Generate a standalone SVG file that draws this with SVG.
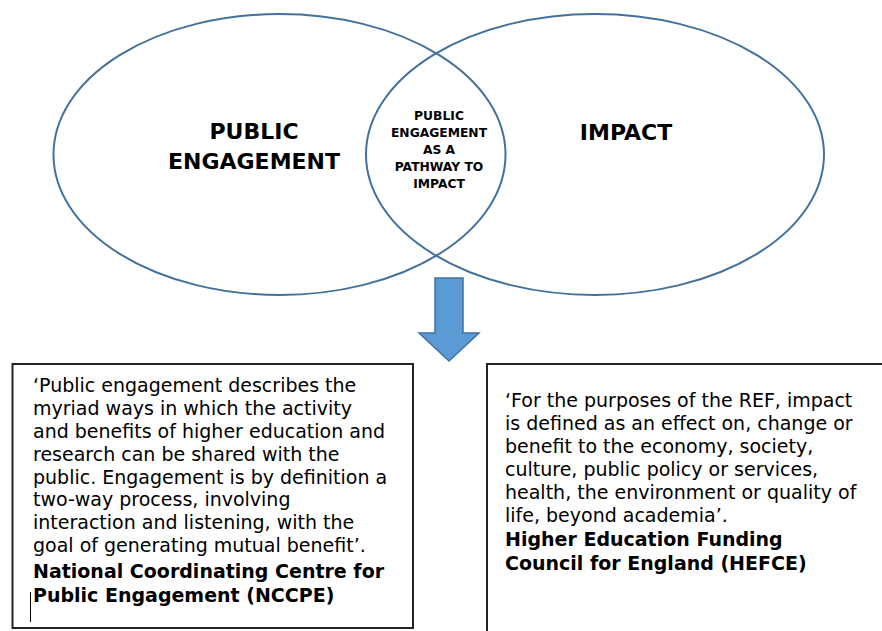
<svg xmlns="http://www.w3.org/2000/svg" width="882" height="631" viewBox="0 0 882 631">
<style>
.ell{fill:none;stroke:#41719C;stroke-width:2}
.box{fill:#fff;stroke:#222;stroke-width:2}
.t{font-family:"DejaVu Sans","Verdana",sans-serif;fill:#000}
.title{font-size:22px;font-weight:bold;text-anchor:middle}
.inner{font-size:12.3px;font-weight:bold;text-anchor:middle}
.body{font-size:19px}
.b{font-weight:bold}
</style>
<rect width="882" height="631" fill="#fff"/>
<g id="public-engagement">
<ellipse class="ell" cx="279.5" cy="154.5" rx="226" ry="140.5"/>
<text class="t title" x="254" y="139">PUBLIC</text>
<text class="t title" x="254" y="169">ENGAGEMENT</text>
</g>
<g id="impact">
<ellipse class="ell" cx="595" cy="154.5" rx="229" ry="140.5"/>
<text class="t title" x="626" y="140">IMPACT</text>
</g>
<g id="pathway">
<text class="t inner" x="439" y="120">PUBLIC</text>
<text class="t inner" x="439" y="137">ENGAGEMENT</text>
<text class="t inner" x="439" y="154">AS A</text>
<text class="t inner" x="439" y="171">PATHWAY TO</text>
<text class="t inner" x="439" y="188">IMPACT</text>
</g>
<g id="connectors">
<polygon points="435,278 463,278 463,333 479,333 449,361 419,333 435,333" fill="#5B9BD5" stroke="#41719C" stroke-width="1.5"/>
</g>
<g id="nccpe-box">
<rect class="box" x="12.5" y="364" width="400.5" height="264"/>
<text class="t body" x="33" y="392">‘Public engagement describes the</text>
<text class="t body" x="33" y="415">myriad ways in which the activity</text>
<text class="t body" x="33" y="438">and benefits of higher education and</text>
<text class="t body" x="33" y="461">research can be shared with the</text>
<text class="t body" x="33" y="484">public. Engagement is by definition a</text>
<text class="t body" x="33" y="506">two-way process, involving</text>
<text class="t body" x="33" y="529">interaction and listening, with the</text>
<text class="t body" x="33" y="552">goal of generating mutual benefit’.</text>
<text class="t body b" x="33" y="578">National Coordinating Centre for</text>
<text class="t body b" x="33" y="602">Public Engagement (NCCPE)</text>
<line x1="30.5" y1="592" x2="30.5" y2="622" stroke="#000" stroke-width="1"/>
</g>
<g id="hefce-box">
<rect class="box" x="487" y="364" width="400" height="280"/>
<text class="t body" x="505" y="407">‘For the purposes of the REF, impact</text>
<text class="t body" x="505" y="430">is defined as an effect on, change or</text>
<text class="t body" x="505" y="453">benefit to the economy, society,</text>
<text class="t body" x="505" y="476">culture, public policy or services,</text>
<text class="t body" x="505" y="499">health, the environment or quality of</text>
<text class="t body" x="505" y="522">life, beyond academia’.</text>
<text class="t body b" x="505" y="546">Higher Education Funding</text>
<text class="t body b" x="505" y="570">Council for England (HEFCE)</text>
</g>
</svg>
